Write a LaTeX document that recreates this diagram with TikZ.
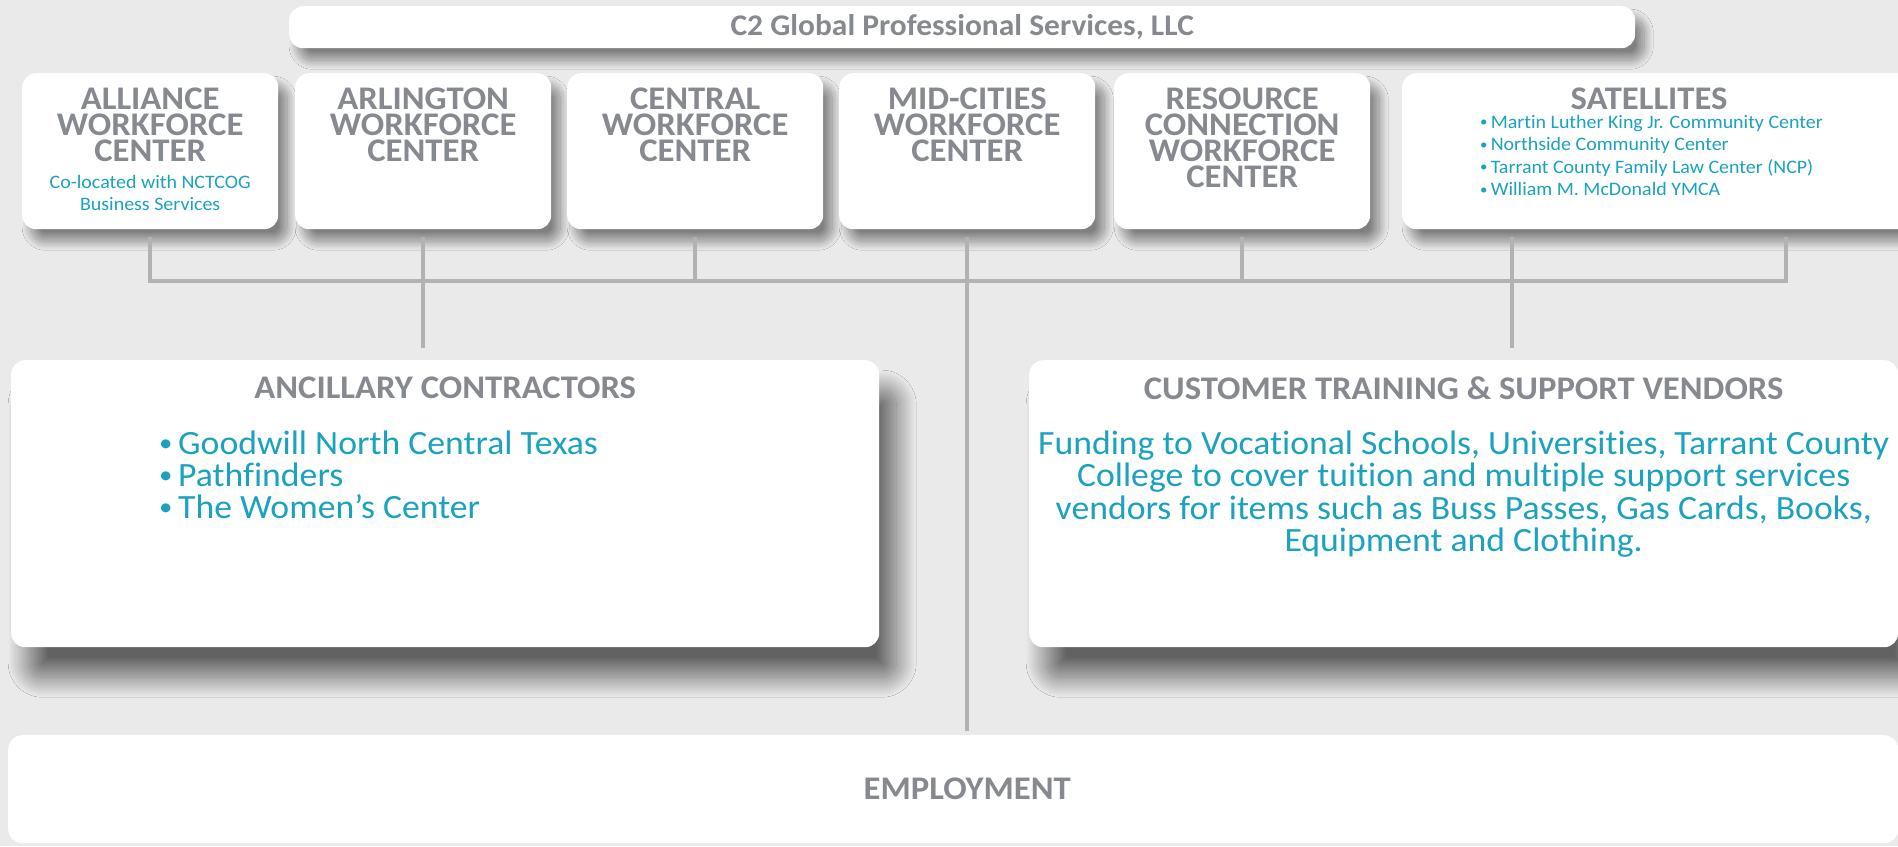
\documentclass[tikz,border=0pt]{standalone}
\usepackage{fontspec}
\setmainfont{Carlito}[FakeStretch=1.05, Ligatures=NoCommon]
\usetikzlibrary{positioning,shadows.blur}

\definecolor{bggray}{HTML}{EAEAEA}
\definecolor{headgray}{HTML}{868990}
\definecolor{itemteal}{HTML}{1AA2BF}
\definecolor{linkgray}{HTML}{B2B2B2}

\newcommand{\itemdot}{\raisebox{0.09em}{\scalebox{0.75}{•}}\,}

\tikzset{
  card/.style={fill=white, rounded corners=14pt, anchor=north west, inner sep=0pt},
  smallcard/.style={card, blur shadow={shadow xshift=9pt, shadow yshift=-12pt, shadow blur radius=9pt, shadow opacity=45, shadow blur steps=30}},
  bigcard/.style={card, blur shadow={shadow xshift=17pt, shadow yshift=-30pt, shadow blur radius=20pt, shadow opacity=58, shadow blur steps=40}},
  head/.style={text=headgray, font=\fontsize{33}{26}\selectfont\bfseries, align=center, inner sep=0pt},
  item/.style={text=itemteal, inner sep=0pt},
  link/.style={draw=linkgray, line width=4.5pt},
}

\begin{document}
\begin{tikzpicture}[x=1pt, y=-1pt]
		\fill[bggray] (0,0) rectangle (1898,846);
		\useasboundingbox (0,0) rectangle (1898,846);
		
		% Top
		\node[smallcard, minimum width=1346pt, minimum height=42pt] (c2) at (289,6) {};
		\node[head, font=\fontsize{30}{30}\selectfont\bfseries] (c2T) at (c2.center) {C2 Global Professional Services, LLC};
		
		% Centers
		\node[smallcard, minimum width=256pt, minimum height=156pt] (alliance) at (22,73) {};
		\node[smallcard, minimum width=256pt, minimum height=156pt] (arlington) at (295,73) {};
		\node[smallcard, minimum width=256pt, minimum height=156pt] (central) at (567,73) {};
		\node[smallcard, minimum width=256pt, minimum height=156pt] (midcities) at (839,73) {};
		\node[smallcard, minimum width=256pt, minimum height=156pt] (resource) at (1114,73) {};
		\node[smallcard, minimum width=513pt, minimum height=156pt] (satellites) at (1402,73) {};
		\coordinate (satTop) at (1649,73);
		
		\node[head, below=15pt of alliance.north] (allianceT) {ALLIANCE\\WORKFORCE\\CENTER};
		\node[item, align=center, font=\fontsize{19}{22}\selectfont, below=13pt of allianceT.south] (allianceS) {Co-located with NCTCOG\\Business Services};
		\node[head, below=15pt of arlington.north] (arlingtonT) {ARLINGTON\\WORKFORCE\\CENTER};
		\node[head, below=15pt of central.north] (centralT) {CENTRAL\\WORKFORCE\\CENTER};
		\node[head, below=15pt of midcities.north] (midcitiesT) {MID-CITIES\\WORKFORCE\\CENTER};
		\node[head, below=15pt of resource.north] (resourceT) {RESOURCE\\CONNECTION\\WORKFORCE\\CENTER};
		\node[head, below=15pt of satTop] (satellitesT) {SATELLITES};
		\node[item, align=left, anchor=north west, font=\fontsize{19}{22.5}\selectfont] (satellitesL) at (1480,115)
			{\itemdot Martin Luther King Jr. Community Center\\\itemdot Northside Community Center\\\itemdot Tarrant County Family Law Center (NCP)\\\itemdot William M. McDonald YMCA};
		
		% Vendors
		\node[bigcard, minimum width=868pt, minimum height=287pt] (anc) at (11,360) {};
		\node[bigcard, minimum width=869pt, minimum height=287pt] (cust) at (1029,360) {};
		\node[head, below=17pt of anc.north] (ancT) {ANCILLARY CONTRACTORS};
		\node[head, below=17pt of cust.north] (custT) {CUSTOMER TRAINING \& SUPPORT VENDORS};
		\node[item, align=left, anchor=north west, font=\fontsize{34}{32}\selectfont] (ancL) at (159,431)
			{\itemdot Goodwill North Central Texas\\\itemdot Pathfinders\\\itemdot The Women’s Center};
		\node[item, align=center, font=\fontsize{34}{32.5}\selectfont, below=30pt of custT.south] (custL)
			{Funding to Vocational Schools, Universities, Tarrant County\\College to cover tuition and multiple support services\\vendors for items such as Buss Passes, Gas Cards, Books,\\Equipment and Clothing.};
		
		% Bottom
		\node[card, minimum width=1890pt, minimum height=108pt] (emp) at (8,735) {};
		\node[head] (empT) at (midcities.south |- emp.center) {EMPLOYMENT};
		
		% Lines
		\coordinate (bus) at (0,281);
		\coordinate (satL) at (1512,229);
		\coordinate (satR) at (1786,229);
		\draw[link, shorten <=8pt, shorten >=8pt] (alliance.south) |- (bus -| satR) -- (satR);
		\foreach \n in {arlington,central,resource}
			\draw[link, shorten <=8pt] (\n.south) -- (\n.south |- bus);
		\draw[link, shorten <=8pt] (satL) -- (satL |- bus);
		\draw[link, shorten >=12pt] (arlington.south |- bus) -- (arlington.south |- anc.north);
		\draw[link, shorten >=12pt] (satL |- bus) -- (satL |- cust.north);
		\draw[link, shorten <=8pt, shorten >=4pt] (midcities.south) -- (midcities.south |- emp.north);
		
\end{tikzpicture}
\end{document}
